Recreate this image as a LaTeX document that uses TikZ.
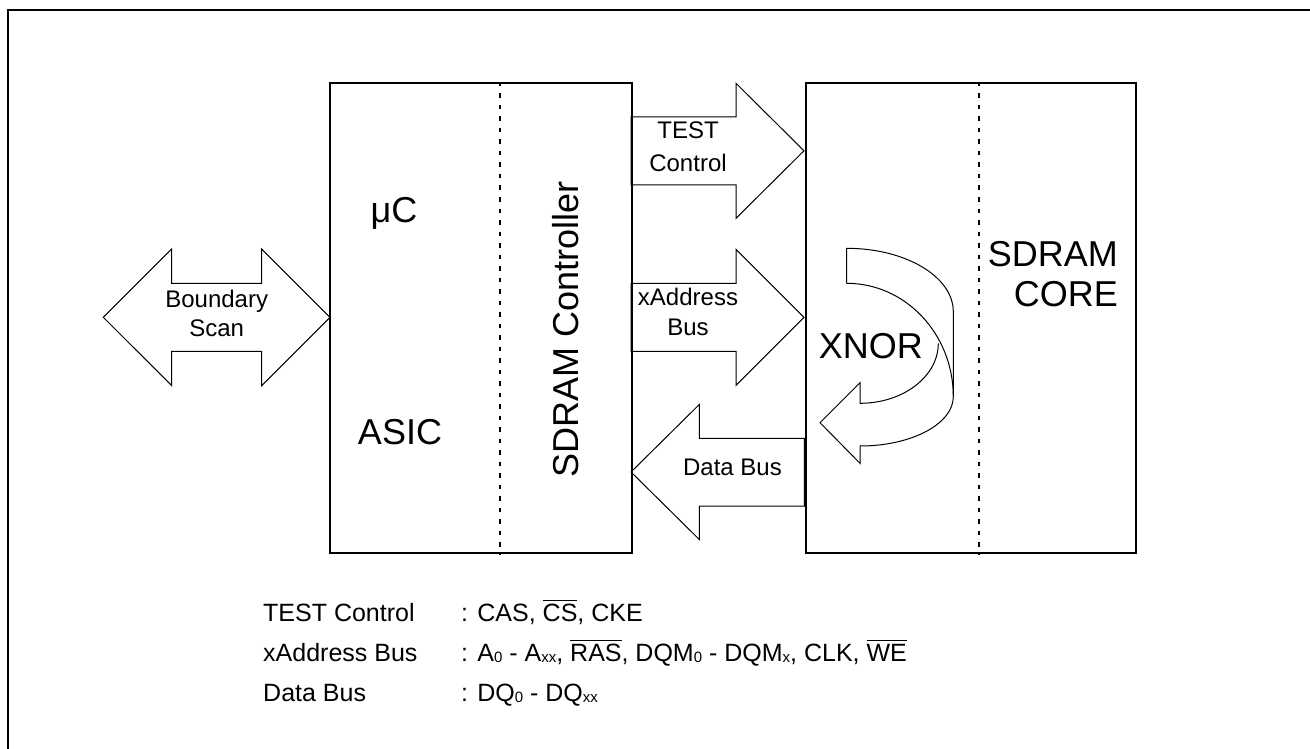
\documentclass[tikz,border=0pt]{standalone}
\usepackage{fontspec}
\setmainfont{Liberation Sans}
\newcommand\ovl[1]{\setbox0\hbox{#1}\rlap{\raisebox{\dimexpr\ht0+2.5pt\relax}{\rule{\wd0}{1.3pt}}}\box0}
\newcommand\sub[1]{\raisebox{-1.5pt}{\fontsize{15}{15}\selectfont #1}}
\begin{document}
\begin{tikzpicture}[x=1pt,y=-1pt,
  frame/.style={line width=2.3pt},
  box/.style={draw, line width=1.6pt, inner sep=0pt, anchor=north west},
  divider/.style={line width=1.6pt, dash pattern=on 4.5pt off 7pt},
  blockarrow/.style={draw, line width=1pt, fill=white, line join=miter},
  curvedarrow/.style={draw, line width=1pt},
  big/.style={font=\fontsize{36}{40}\selectfont, inner sep=0pt},
  lbl/.style={font=\fontsize{24}{29}\selectfont, align=center, inner sep=0pt},
  legend/.style={font=\fontsize{25}{30}\selectfont, anchor=base west, inner sep=0pt}]
\useasboundingbox (0,0) rectangle (1310,749);
\fill[white] (0,0) rectangle (1310,749);
\begin{scope}
\clip (0,0) rectangle (1310,749);
\draw[frame] (8,770) -- (8,10) -- (1330,10);
\end{scope}

% block arrows
\draw[blockarrow] (103.3,317.3) -- (171.7,249) -- (171.7,283.3) -- (261.7,283.3) -- (261.7,249)
  -- (330,317.3) -- (261.7,385.6) -- (261.7,351.3) -- (171.7,351.3) -- (171.7,385.6) -- cycle;
\draw[blockarrow] (631,116.8) -- (736,116.8) -- (736,83.3) -- (804,150.8) -- (736,218.3)
  -- (736,184.8) -- (631,184.8) -- cycle;
\draw[blockarrow] (631,283.3) -- (736,283.3) -- (736,249.3) -- (804,317.3) -- (736,385.3)
  -- (736,351.3) -- (631,351.3) -- cycle;
\draw[blockarrow] (631,472) -- (699.3,404.5) -- (699.3,438.3) -- (804.3,438.3) -- (804.3,506)
  -- (699.3,506) -- (699.3,539.5) -- cycle;

% curved XNOR arrow
\draw[curvedarrow] (846.7,283.3) -- (846.7,248.3)
  .. controls (905.6,248.3) and (953.3,276.7) .. (953.3,311.7) -- (953.3,396.7);
\draw[curvedarrow] (846.7,283.3) .. controls (905.6,283.3) and (953.3,334.1) .. (953.3,396.7);
\draw[curvedarrow] (953.3,396.7) .. controls (953.3,423.9) and (911.5,446) .. (860,446)
  -- (860,463.3) -- (820,422.7) -- (860,382.7) -- (860,403.3)
  .. controls (903.3,403.3) and (938.3,376.4) .. (938.3,343.3);

% boxes
\node[box, minimum width=302pt, minimum height=470pt] (asic) at (329,82) {};
\node[box, minimum width=330pt, minimum height=470pt] (core) at (805,82) {};
\draw[divider] ([xshift=171pt]asic.north west) -- ([xshift=171pt]asic.south west);
\draw[divider] ([xshift=174pt]core.north west) -- ([xshift=174pt]core.south west);

% texts
\node[big] (uc) at (394,213) {μC};
\node[big] (asictext) at (400,432) {ASIC};
\node[big, rotate=90] (ctrl) at (566,329) {SDRAM Controller};
\node[big] (xnor) at (870.8,346) {XNOR};
\node[big, align=right, anchor=north east, font=\fontsize{36}{40}\selectfont] (coretext) at (1118,241) {SDRAM\\CORE};
\node[lbl] (bscan) at (216.7,313.5) {Boundary\\Scan};
\node[lbl, font=\fontsize{24}{33}\selectfont] (testctl) at (688,146.7) {TEST\\Control};
\node[lbl, font=\fontsize{24}{30}\selectfont] (xaddr) at (688,312) {xAddress\\Bus};
\node[lbl] (dbus) at (732.5,467.7) {Data Bus};

% legend
\node[legend] (l1a) at (263,621) {TEST Control};
\node[legend] (l1b) at (461,621) {: CAS, \ovl{CS}, CKE};
\node[legend] (l2a) at (263,661) {xAddress Bus};
\node[legend] (l2b) at (461,661) {: A\sub{0} - A\sub{xx}, \ovl{RAS}, DQM\sub{0} - DQM\sub{x}, CLK, \ovl{WE}};
\node[legend] (l3a) at (263,701) {Data Bus};
\node[legend] (l3b) at (461,701) {: DQ\sub{0} - DQ\sub{xx}};
\end{tikzpicture}
\end{document}
